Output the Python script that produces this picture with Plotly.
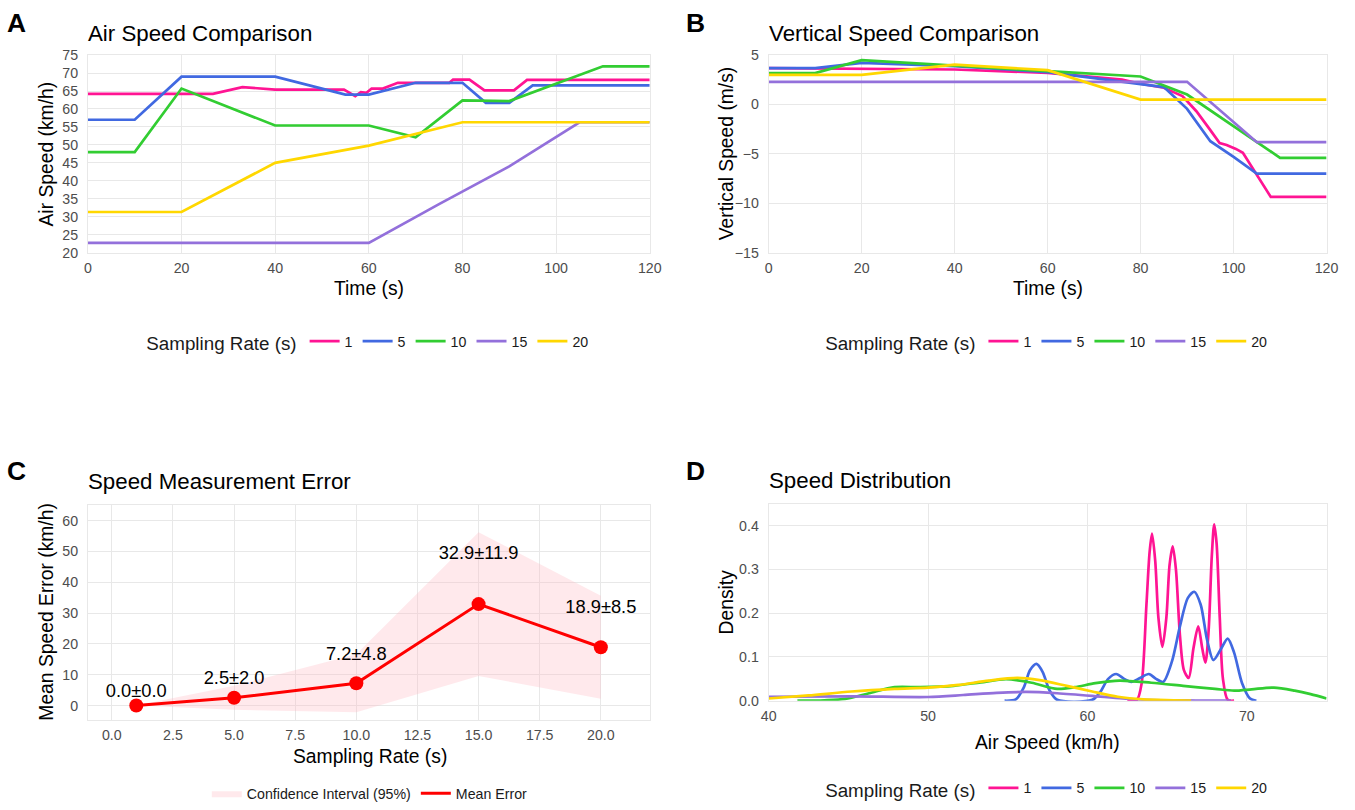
import plotly.graph_objects as go

# ---------------- DATA ----------------
RATES = ["1", "5", "10", "15", "20"]

# Panel A: air speed (km/h) vs time (s)
A_T_1 = [0, 26.7, 33, 40, 54.7, 57.1, 58.3, 59.5, 60.6, 63, 66.2, 77.2, 78, 81.5, 84.7, 91, 93.8, 120]
A_V_1 = [64.2, 64.2, 66.1, 65.4, 65.4, 63.6, 64.7, 64.5, 65.7, 65.7, 67.3, 67.3, 68.2, 68.2, 65.2, 65.2, 68.1, 68.1]
A_T_5 = [0, 10, 20, 40, 55, 60, 70, 80, 85, 90, 95, 120]
A_V_5 = [57.0, 57.0, 69.0, 69.0, 64.0, 64.0, 67.3, 67.3, 61.7, 61.7, 66.6, 66.6]
A_T_10 = [0, 10, 20, 40, 60, 70, 80, 90, 110, 120]
A_V_10 = [48.0, 48.0, 65.7, 55.4, 55.4, 52.1, 62.4, 62.2, 71.9, 71.9]
A_T_15 = [0, 60, 75, 90, 105, 120]
A_V_15 = [22.7, 22.7, 33.5, 44.0, 56.3, 56.3]
A_T_20 = [0, 20, 40, 60, 80, 120]
A_V_20 = [31.3, 31.3, 45.0, 49.8, 56.3, 56.3]

# Panel B: vertical speed (m/s) vs time (s)
B_T_1 = [0, 40, 60, 76, 80, 85, 89, 92, 95, 97, 98.5, 100.5, 102, 108, 120]
B_V_1 = [3.68, 3.55, 3.2, 2.53, 2.1, 1.7, 0.85, -0.68, -2.6, -3.9, -4.1, -4.5, -4.9, -9.36, -9.36]
B_T_5 = [0, 10, 20, 40, 60, 80, 85, 90, 95, 100, 105, 120]
B_V_5 = [3.68, 3.68, 4.22, 3.89, 3.28, 2.09, 1.76, -0.44, -3.72, -5.3, -7.0, -7.0]
B_T_10 = [0, 10, 20, 40, 60, 80, 90, 110, 120]
B_V_10 = [3.18, 3.18, 4.49, 3.9, 3.38, 2.84, 1.01, -5.4, -5.4]
B_T_15 = [0, 90, 105, 120]
B_V_15 = [2.3, 2.3, -3.82, -3.82]
B_T_20 = [0, 20, 40, 60, 80, 120]
B_V_20 = [3.0, 3.0, 4.05, 3.48, 0.5, 0.5]

# Panel C: mean speed error by sampling rate
C_RATE = [1, 5, 10, 15, 20]
C_MEAN = [0.0, 2.5, 7.2, 32.9, 18.9]
C_SD = [0.0, 2.0, 4.8, 11.9, 8.5]
C_CI_LOW = [0.0, -1.4, -2.2, 9.6, 2.2]
C_CI_HIGH = [0.0, 6.4, 16.6, 56.2, 35.6]

# Panel D: density of air speed
D_X_1 = [62.5, 63.1, 63.4, 63.7, 63.9, 64.05, 64.25, 64.45, 64.7, 64.95, 65.15, 65.35, 65.55, 65.8, 66.05,
         66.35, 66.65, 66.95, 67.2, 67.4, 67.6, 67.8, 67.95, 68.1, 68.3, 68.5, 68.8, 69.2]
D_Y_1 = [0.0, 0.002, 0.04, 0.22, 0.34, 0.382, 0.32, 0.19, 0.123, 0.19, 0.31, 0.353, 0.30, 0.15, 0.07,
         0.052, 0.12, 0.17, 0.12, 0.087, 0.16, 0.33, 0.403, 0.36, 0.19, 0.05, 0.002, 0.0]
D_X_5 = [54.8, 55.5, 56.0, 56.4, 56.8, 57.2, 57.6, 58.1, 60.3, 60.8, 61.3, 61.8, 62.3, 62.75, 63.3, 63.85,
         64.3, 64.75, 65.3, 65.8, 66.3, 66.7, 67.1, 67.5, 67.9, 68.4, 68.8, 69.2, 69.7, 70.2, 70.6]
D_Y_5 = [0.0, 0.003, 0.03, 0.07, 0.084, 0.065, 0.025, 0.002, 0.002, 0.02, 0.05, 0.061, 0.05, 0.043, 0.052,
         0.061, 0.05, 0.043, 0.09, 0.17, 0.235, 0.249, 0.22, 0.14, 0.093, 0.12, 0.142, 0.11, 0.04, 0.005, 0.0]
D_X_10 = [41.8, 43.5, 44.8, 46.3, 47.9, 49.5, 51.6, 53.3, 54.9, 56.5, 58.1, 59.2, 60.5, 62.0, 64.0, 66.0,
          68.0, 69.2, 70.3, 71.7, 73.0, 74.0, 75.0]
D_Y_10 = [0.0, 0.001, 0.004, 0.017, 0.031, 0.031, 0.034, 0.042, 0.049, 0.041, 0.027, 0.031, 0.040, 0.046,
          0.041, 0.034, 0.027, 0.023, 0.026, 0.030, 0.023, 0.015, 0.005]
D_X_15 = [40, 45.2, 50.0, 52.2, 54.3, 56.2, 58.1, 60.3, 62.2, 64.1, 66.8, 69.0]
D_Y_15 = [0.009, 0.010, 0.0085, 0.013, 0.018, 0.020, 0.017, 0.011, 0.005, 0.0015, 0.0005, 0.0]
D_X_20 = [40, 42.5, 45.2, 47.9, 50.0, 51.9, 53.8, 55.6, 57.0, 58.7, 60.3, 61.9, 63.5, 65.4, 66.5]
D_Y_20 = [0.005, 0.012, 0.021, 0.027, 0.030, 0.036, 0.046, 0.052, 0.047, 0.034, 0.021, 0.009, 0.003, 0.001, 0.0]

# ---------------- STYLE ----------------
W, H = 1355, 810
# calibration of the photographed page: observed = offset + scale * figure_px
OX, SX = 8.1, 0.9855
OY, SY = 7.8, 0.976
COLORS = ["#FF1493", "#4169E1", "#32CD32", "#9370DB", "#FFD700"]
FONT = "Liberation Sans, Arial, sans-serif"
GRID = "#E8E8E8"
TICK_COLOR = "#4D4D4D"


def px_x(p):
    return ((p - OX) / SX) / W


def px_y(p):
    return 1 - ((p - OY) / SY) / H


def fs(s):
    return round(s / SX, 1)


fig = go.Figure()

A_SERIES = [(A_T_1, A_V_1), (A_T_5, A_V_5), (A_T_10, A_V_10), (A_T_15, A_V_15), (A_T_20, A_V_20)]
B_SERIES = [(B_T_1, B_V_1), (B_T_5, B_V_5), (B_T_10, B_V_10), (B_T_15, B_V_15), (B_T_20, B_V_20)]
D_SERIES = [(D_X_1, D_Y_1), (D_X_5, D_Y_5), (D_X_10, D_Y_10), (D_X_15, D_Y_15), (D_X_20, D_Y_20)]

for i, r in enumerate(RATES):
    fig.add_trace(go.Scatter(x=A_SERIES[i][0], y=A_SERIES[i][1], mode="lines", name=r,
                             line=dict(color=COLORS[i], width=2.7), xaxis="x", yaxis="y",
                             legend="legend", showlegend=True))
for i, r in enumerate(RATES):
    fig.add_trace(go.Scatter(x=B_SERIES[i][0], y=B_SERIES[i][1], mode="lines", name=r,
                             line=dict(color=COLORS[i], width=2.7), xaxis="x2", yaxis="y2",
                             legend="legend2", showlegend=True))

# Panel C
fig.add_trace(go.Scatter(x=C_RATE + C_RATE[::-1], y=C_CI_HIGH + C_CI_LOW[::-1], fill="toself",
                         fillcolor="rgba(255,182,193,0.3)", line=dict(width=0, color="rgba(0,0,0,0)"),
                         mode="lines", name="Confidence Interval (95%)", xaxis="x3", yaxis="y3",
                         legend="legend3", hoverinfo="skip"))
fig.add_trace(go.Scatter(x=C_RATE, y=C_MEAN, mode="lines", name="Mean Error",
                         line=dict(color="#FF0000", width=3), xaxis="x3", yaxis="y3", legend="legend3"))
fig.add_trace(go.Scatter(x=C_RATE, y=C_MEAN, mode="markers", marker=dict(color="#FF0000", size=14),
                         xaxis="x3", yaxis="y3", showlegend=False))
fig.add_trace(go.Scatter(x=C_RATE, y=[m + s for m, s in zip(C_MEAN, C_SD)], mode="markers+text",
                         marker=dict(size=4, color="rgba(0,0,0,0)"),
                         text=[f"{m:.1f}±{s:.1f}" for m, s in zip(C_MEAN, C_SD)],
                         textposition="top center", textfont=dict(size=fs(18), color="black", family=FONT),
                         xaxis="x3", yaxis="y3", showlegend=False, hoverinfo="skip"))

for i, r in enumerate(RATES):
    fig.add_trace(go.Scatter(x=D_SERIES[i][0], y=D_SERIES[i][1], mode="lines", name=r,
                             line=dict(color=COLORS[i], width=2.7, shape="spline", smoothing=0.8),
                             xaxis="x4", yaxis="y4", legend="legend4", showlegend=True))

# ---------------- LAYOUT ----------------
xA = [px_x(88), px_x(650)]
xB = [px_x(769), px_x(1327)]
yTop = [px_y(252.5), px_y(55)]
yC = [px_y(720), px_y(505)]
yD = [px_y(701), px_y(504)]


def ax(domain, anchor, rng, dtick, tick0=None, fmt=None, standoff=3):
    d = dict(domain=domain, anchor=anchor, range=rng, dtick=dtick, showgrid=True, gridcolor=GRID,
             gridwidth=1.2, zeroline=False, showline=True, mirror=True, linecolor=GRID, linewidth=1,
             ticks="", tickfont=dict(size=fs(14), color=TICK_COLOR, family=FONT), fixedrange=True,
             ticklabelstandoff=standoff)
    if tick0 is not None:
        d["tick0"] = tick0
    if fmt:
        d["tickformat"] = fmt
    return d


leg_common = dict(orientation="h", xanchor="center", yanchor="middle", bgcolor="rgba(0,0,0,0)",
                  font=dict(size=fs(14), color="#1A1A1A", family=FONT), itemwidth=30, tracegroupgap=0)
title_leg = dict(text="Sampling Rate (s)", side="left", font=dict(size=fs(18.5), color="#1A1A1A", family=FONT))

fig.update_layout(
    width=W, height=H, margin=dict(l=0, r=0, t=0, b=0),
    paper_bgcolor="white", plot_bgcolor="white",
    font=dict(family=FONT, color="#1A1A1A"),
    xaxis=ax(xA, "y", [0, 120], 20, 0, standoff=2),
    yaxis=ax(yTop, "x", [20, 75], 5, 20, standoff=6),
    xaxis2=ax(xB, "y2", [0, 120], 20, 0, standoff=2),
    yaxis2=ax(yTop, "x2", [-15, 5], 5, -15, standoff=6),
    xaxis3=ax(xA, "y3", [-0.98, 22.0], 2.5, 0, ".1f", standoff=2),
    yaxis3=ax(yC, "x3", [-4.6, 65.1], 10, 0, standoff=6),
    xaxis4=ax(xB, "y4", [40, 75], 10, 40, standoff=2),
    yaxis4=ax(yD, "x4", [0, 0.45], 0.1, 0, ".1f", standoff=6),
    legend=dict(x=px_x(369), y=px_y(343), title=title_leg, **leg_common),
    legend2=dict(x=px_x(1048), y=px_y(343), title=title_leg, **leg_common),
    legend3=dict(x=px_x(370), y=px_y(794), **leg_common),
    legend4=dict(x=px_x(1048), y=px_y(790), title=title_leg, **leg_common),
    showlegend=True,
)

annotations = []
# panel letters
for txt, x, y in [("A", 17, 23), ("B", 696, 23), ("C", 17, 471), ("D", 696, 471)]:
    annotations.append(dict(text=f"<b>{txt}</b>", x=px_x(x), y=px_y(y), xref="paper", yref="paper",
                            xanchor="center", yanchor="middle", showarrow=False,
                            font=dict(size=fs(26), color="black", family=FONT)))
# panel titles
for txt, x, y in [("Air Speed Comparison", 86, 33), ("Vertical Speed Comparison", 767, 33),
                  ("Speed Measurement Error", 86, 482), ("Speed Distribution", 767, 481)]:
    annotations.append(dict(text=txt, x=px_x(x), y=px_y(y), xref="paper", yref="paper",
                            xanchor="left", yanchor="middle", showarrow=False,
                            font=dict(size=fs(22), color="black", family=FONT)))
# axis titles
for txt, x, y, ang in [("Time (s)", 369, 288, 0), ("Air Speed (km/h)", 47, 153.5, -90),
                       ("Time (s)", 1048, 288, 0), ("Vertical Speed (m/s)", 727, 153.5, -90),
                       ("Sampling Rate (s)", 370, 757, 0), ("Mean Speed Error (km/h)", 47, 612, -90),
                       ("Air Speed (km/h)", 1048, 743, 0), ("Density", 727, 602, -90)]:
    annotations.append(dict(text=txt, x=px_x(x), y=px_y(y), xref="paper", yref="paper",
                            xanchor="center", yanchor="middle", showarrow=False, textangle=ang,
                            font=dict(size=fs(19), color="black", family=FONT)))
fig.update_layout(annotations=annotations)

fig.write_html("out.html")
